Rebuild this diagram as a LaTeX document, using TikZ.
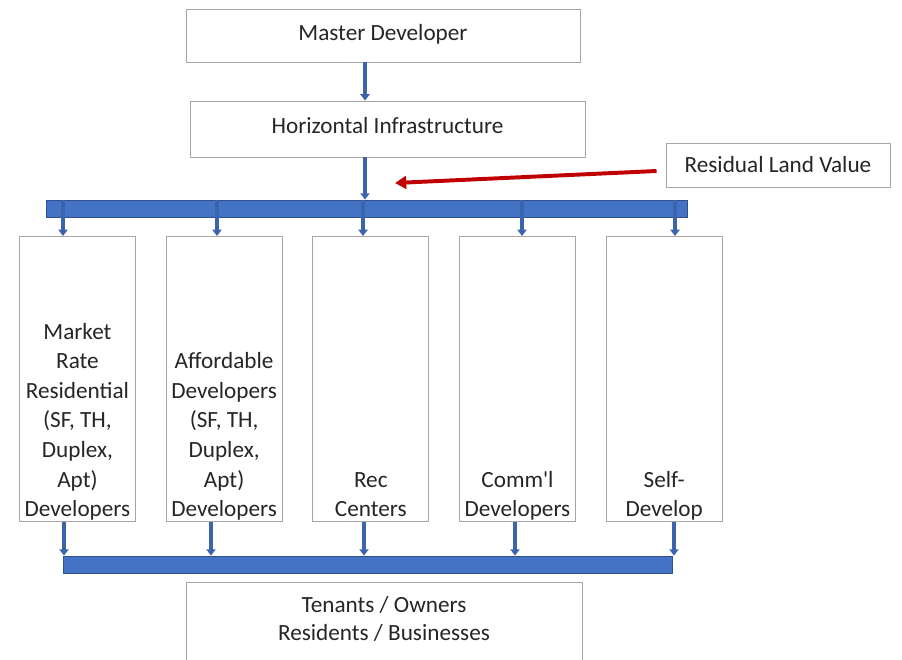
\documentclass[tikz,border=0pt]{standalone}
\usepackage{fontspec}
\setmainfont{Carlito}[Ligatures=TeXOff]
\usepackage{xcolor}
\usetikzlibrary{arrows.meta, positioning}

\definecolor{barblue}{HTML}{4472C4}
\definecolor{bardark}{HTML}{2F528F}
\definecolor{feedred}{HTML}{C00000}

\newcommand{\lastline}{\rule[-3.5pt]{0pt}{1pt}}

\begin{document}
\begin{tikzpicture}[x=0.025cm, y=-0.025cm, node distance=0.745cm,
  font=\fontsize{16.5}{21}\selectfont, text=black!85]
\tikzstyle{box} = [rectangle, draw=black!35, line width=0.6pt, fill=white, inner sep=0pt]
\tikzstyle{cell} = [box, minimum width=2.9cm, minimum height=7.125cm, anchor=north west]
\tikzstyle{bar} = [rectangle, draw=bardark, fill=barblue, line width=0.6pt, minimum height=0.425cm, inner sep=0pt]
\tikzstyle{flow} = [draw=barblue!88!black, line width=3.4pt, -{Triangle[width=6.5pt,length=4.5pt]}]
\tikzstyle{feed} = [draw=feedred, line width=2.8pt, -{Triangle[width=9pt,length=8pt]}]

\useasboundingbox (0,0) rectangle (902,659);

\node [box, minimum width=9.85cm, minimum height=1.325cm] (master) at (383,35.5) {\raisebox{5pt}{Master Developer}};
\node [box, minimum width=9.875cm, minimum height=1.4cm] (infra) at (387.5,129) {\raisebox{5pt}{Horizontal Infrastructure}};
\node [box, minimum width=5.6cm, minimum height=1.1cm] (rlv) at (778,165) {Residual Land Value};

\node [bar, minimum width=16cm] (topbar) at (367,208.5) {};
\node [bar, minimum width=15.225cm] (botbar) at (367.5,564.5) {};

% the five developer groups
\node [cell] (market) at (19,236) {\parbox[c][7cm][b]{2.8cm}{\centering Market\\Rate\\Residential\\(SF, TH,\\Duplex,\\Apt)\\Developers\lastline}};
\node [cell, right=of market] (afford) {\parbox[c][7cm][b]{2.8cm}{\centering Affordable\\Developers\\(SF, TH,\\Duplex,\\Apt)\\Developers\lastline}};
\node [cell, right=of afford] (rec) {\parbox[c][7cm][b]{2.8cm}{\centering Rec\\Centers\lastline}};
\node [cell, right=of rec] (comm) {\parbox[c][7cm][b]{2.8cm}{\centering Comm'l\\Developers\lastline}};
\node [cell, right=of comm] (self) {\parbox[c][7cm][b]{2.8cm}{\centering Self-\\Develop\lastline}};

\node [box, minimum width=9.9cm, anchor=north] (tenants) at (384,582) {\parbox[c][2.5cm][t]{9.5cm}{\centering\vspace*{0.36cm}Tenants / Owners\\[-1.5pt]Residents / Businesses}};

\coordinate (spine) at (365,0);
\coordinate (rlvtip) at (395,183);

\path [flow] (master.south -| spine) -- (infra.north -| spine);
\path [flow] (infra.south -| spine) -- (topbar.north -| spine);
\path [feed] ([shift={(-9,6)}]rlv.west) -- (rlvtip);

\foreach \cell/\xa in {market/63, afford/217, rec/363, comm/522, self/675}
  \path [flow] (topbar.north -| \xa,0) -- (\cell.north -| \xa,0);
\foreach \cell/\xb in {market/64, afford/211, rec/364, comm/515, self/674}
  \path [flow] (\cell.south -| \xb,0) -- (botbar.north -| \xb,0);

\end{tikzpicture}
\end{document}
